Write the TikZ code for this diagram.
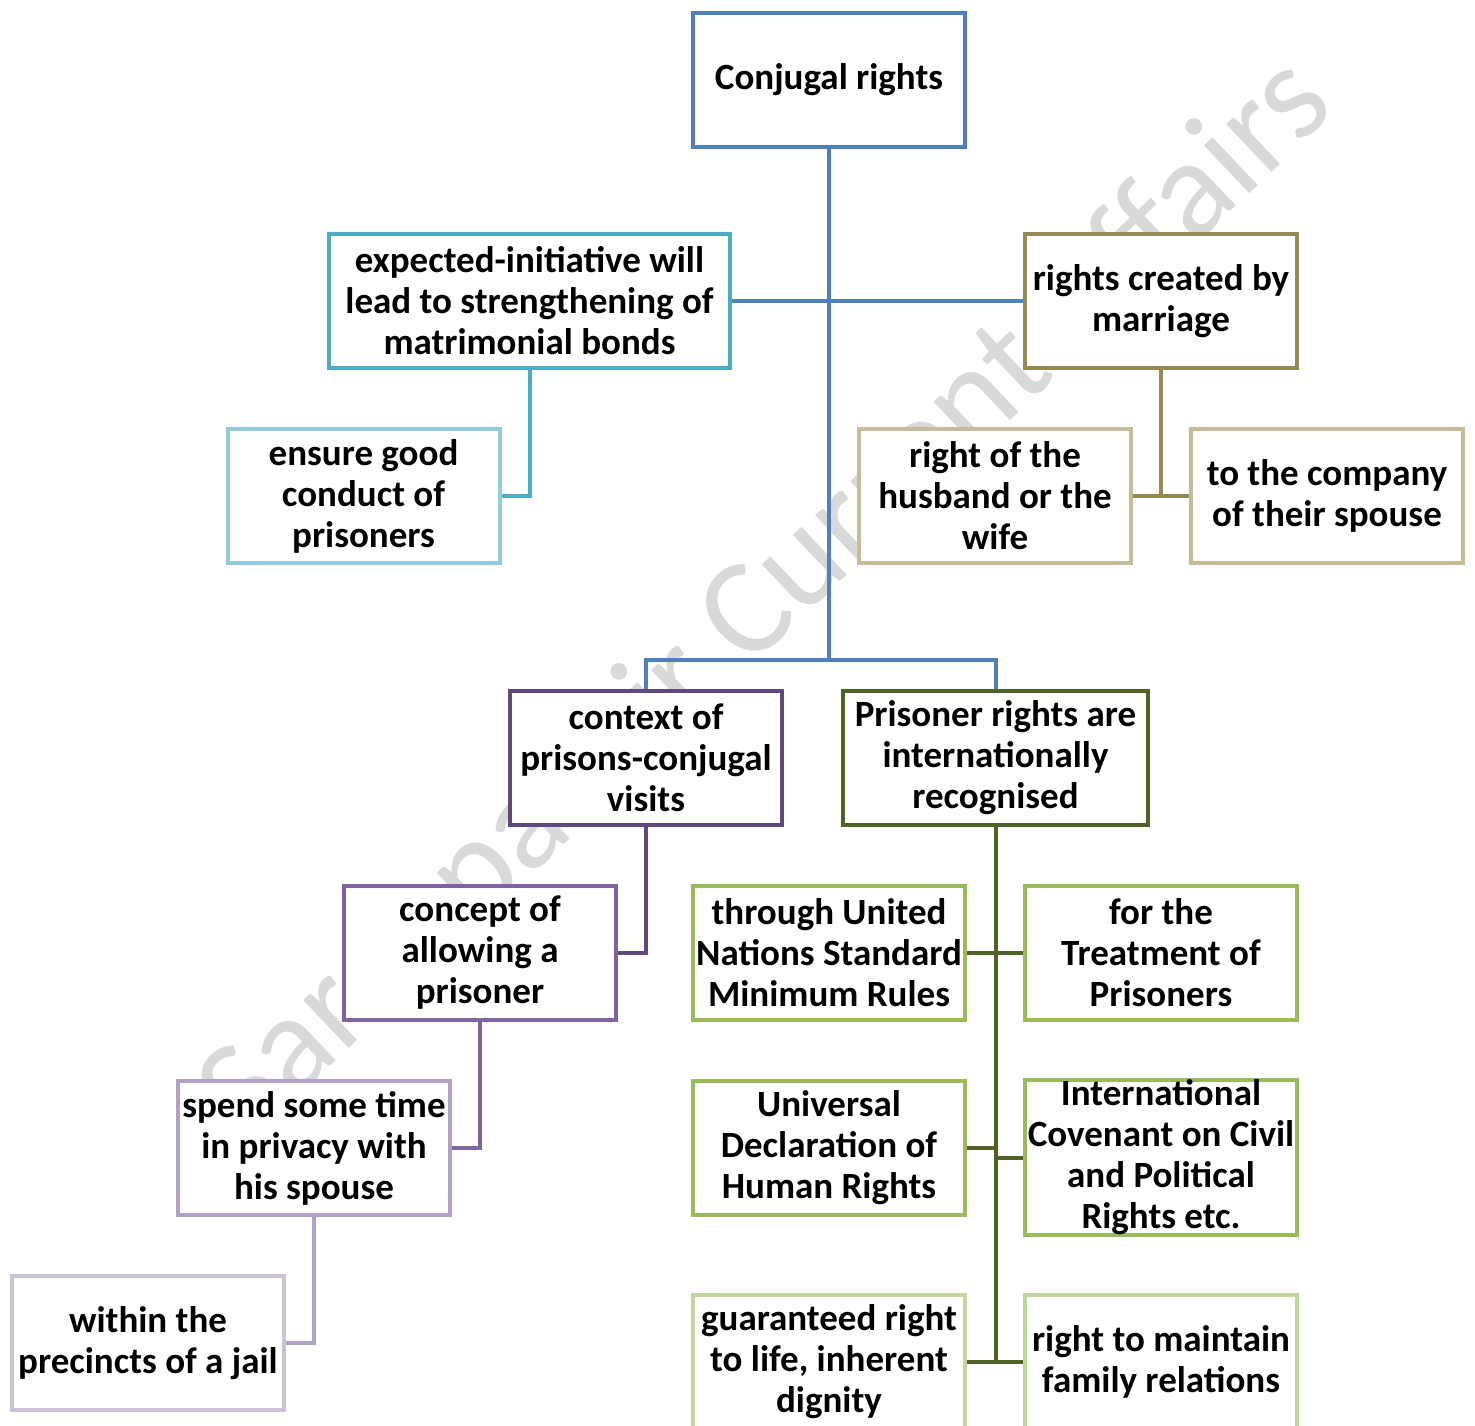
\documentclass[tikz,border=0pt]{standalone}
\usepackage{fontspec}
\setmainfont{Carlito}
\definecolor{rootblue}{HTML}{4F81BD}
\definecolor{teal}{HTML}{4BACC6}
\definecolor{lightteal}{HTML}{92CDDC}
\definecolor{olive}{HTML}{948A54}
\definecolor{lightolive}{HTML}{C4BD97}
\definecolor{darkpurple}{HTML}{5F497A}
\definecolor{midpurple}{HTML}{8064A2}
\definecolor{lightpurple}{HTML}{B2A1C7}
\definecolor{palepurple}{HTML}{CCC1DA}
\definecolor{darkgreen}{HTML}{4F6228}
\definecolor{midgreen}{HTML}{9BBB59}
\definecolor{lightgreen}{HTML}{C3D69B}
\begin{document}
\begin{tikzpicture}[x=1pt, y=-1pt,
  cbox/.style={draw=#1, line width=4pt, fill=white, minimum width=272pt,
               minimum height=134pt, align=center, inner sep=0pt,
               font=\bfseries\fontsize{37}{41}\selectfont},
  link/.style={draw=#1, line width=4pt}
]
  \useasboundingbox (0,0) rectangle (1475,1426);
  \clip (0,0) rectangle (1475,1426);
  % watermark
  \node[rotate=43.5, text=black!15, font=\fontsize{138}{138}\selectfont] (wm) at (768,600) {Sarabpal Sir Current Affairs};

  \node[cbox=rootblue] (root) at (829,80) {Conjugal rights};
  \node[cbox=teal, minimum width=401pt] (exp) at (529.5,301) {expected-initiative will\\lead to strengthening of\\matrimonial bonds};
  \node[cbox=lightteal] (ens) at (363.5,496) {ensure good\\conduct of\\prisoners};
  \node[cbox=olive] (mar) at (1161,301) {rights created by\\marriage};
  \node[cbox=lightolive] (hus) at (995,496) {right of the\\husband or the\\wife};
  \node[cbox=lightolive] (cmp) at (1327,496) {to the company\\of their spouse};
  \node[cbox=darkpurple] (ctx) at (646,758) {context of\\prisons-conjugal\\visits};
  \node[cbox=darkgreen, minimum width=305pt] (prs) at (995.5,758) {Prisoner rights are\\internationally\\recognised};
  \node[cbox=midpurple] (con) at (480,953) {concept of\\allowing a\\prisoner};
  \node[cbox=lightpurple] (spd) at (314,1148) {spend some time\\in privacy with\\his spouse};
  \node[cbox=palepurple] (jail) at (148,1343) {within the\\precincts of a jail};
  \node[cbox=midgreen] (un) at (829,953) {through United\\Nations Standard\\Minimum Rules};
  \node[cbox=midgreen] (trt) at (1161,953) {for the\\Treatment of\\Prisoners};
  \node[cbox=midgreen] (udhr) at (829,1148) {Universal\\Declaration of\\Human Rights};
  \node[cbox=midgreen, minimum height=154pt] (icc) at (1161,1157.5) {International\\Covenant on Civil\\and Political\\Rights etc.};
  \node[cbox=lightgreen] (life) at (829,1362) {guaranteed right\\to life, inherent\\dignity};
  \node[cbox=lightgreen] (fam) at (1161,1362) {right to maintain\\family relations};

  \coordinate (bus) at (829,660);
  \draw[link=rootblue] (root.south) -- (bus);
  \draw[link=rootblue] (exp.east) -- (mar.west);
  \draw[link=rootblue] (ctx.north) |- (bus) -| (prs.north);
  \draw[link=teal] (exp.south) |- (ens.east);
  \draw[link=olive] (mar.south) |- (hus.east);
  \draw[link=olive] (mar.south) |- (cmp.west);
  \draw[link=darkpurple] (ctx.south) |- (con.east);
  \draw[link=midpurple] (con.south) |- (spd.east);
  \draw[link=lightpurple] (spd.south) |- (jail.east);
  \draw[link=darkgreen] (prs.south) |- (un.east);
  \draw[link=darkgreen] (prs.south) |- (trt.west);
  \draw[link=darkgreen] (prs.south) |- (udhr.east);
  \draw[link=darkgreen] (prs.south) |- (icc.west);
  \draw[link=darkgreen] (prs.south) |- (life.east);
  \draw[link=darkgreen] (prs.south) |- (fam.west);
\end{tikzpicture}
\end{document}
